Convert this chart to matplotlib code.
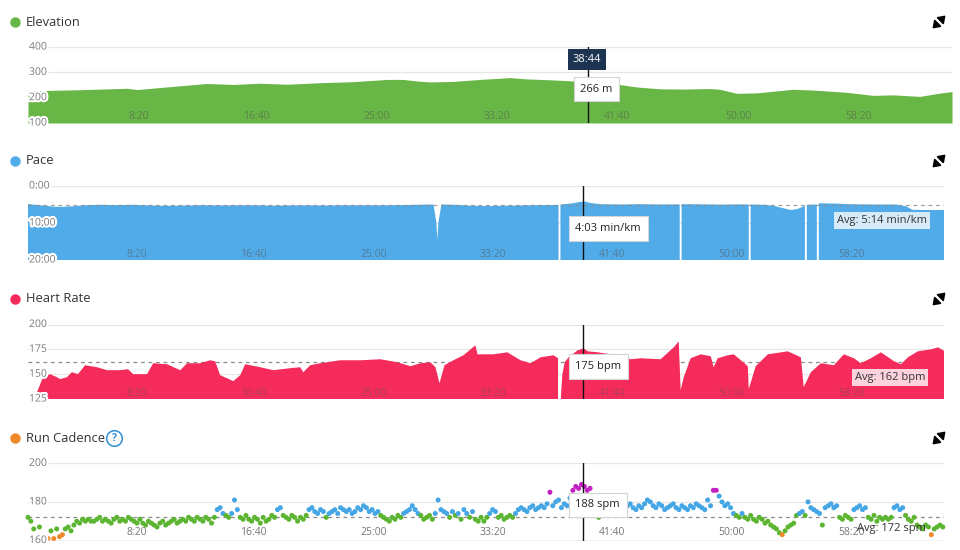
import numpy as np
import matplotlib
matplotlib.use('Agg')
import matplotlib.pyplot as plt
import matplotlib.patheffects as pe

plt.rcParams['font.family'] = ['Open Sans', 'DejaVu Sans']

# ---------------- data ----------------
T_END = 3833          # activity duration (s)
T_CURSOR = 2324       # 38:44
X_TICKS = [500, 1000, 1500, 2000, 2500, 3000, 3500]

elev_t = [0, 203, 411, 452, 547, 742, 850, 962, 1074, 1211, 1348, 1489, 1555, 1613, 1667,
          1763, 1875, 1999, 2070, 2178, 2260, 2319, 2426, 2510, 2538, 2621, 2717, 2829,
          2870, 2941, 3024, 3173, 3256, 3397, 3505, 3588, 3700, 3783, 3833]
elev_m = [227, 231, 237, 232, 240, 256, 252, 257, 253, 259, 263, 272, 272, 266, 262,
          264, 272, 279, 274, 270, 266, 263, 256, 244, 241, 235, 234, 236,
          233, 217, 219, 233, 230, 221, 209, 211, 205, 218, 224]
elev_ticks = [100, 200, 300, 400]

nan = float('nan')
pace_t = [0, 17, 71, 105, 142, 184, 239, 302, 364, 427, 511, 574, 637, 721, 825, 930,
          1035, 1139, 1244, 1349, 1454, 1558, 1663, 1697, 1709, 1713, 1717, 1730, 1789,
          1852, 1935, 2019, 2103, 2166, 2220, 2224, 2228, 2271, 2304, 2329, 2354, 2396,
          2480, 2564, 2648, 2727, 2731, 2735, 2815, 2899, 2983, 3016, 3020, 3024, 3088,
          3129, 3171, 3192, 3222, 3251, 3255, 3259, 3297, 3301, 3305, 3309, 3381, 3444,
          3527, 3632, 3675, 3700, 3758, 3838]
pace_s = [290, 300, 320, 335, 338, 330, 312, 305, 310, 305, 315, 322, 318, 312, 315, 312,
          318, 314, 316, 312, 314, 310, 302, 300, 600, 880, 600, 300, 305,
          320, 325, 318, 312, 310, 306, nan, 300, 285, 262, 250, 275, 295,
          300, 295, 300, 298, nan, 295, 297, 302, 298, 300, nan, 300, 305,
          330, 370, 390, 370, 320, nan, 305, 300, 300, nan, 280, 285, 295,
          300, 300, 330, 385, 390, 390]
pace_avg = 314
pace_ticks = [0, 600, 1200]

hr_t = [29, 38, 63, 92, 121, 134, 163, 184, 209, 239, 289, 331, 385, 419, 440, 498, 524,
        582, 637, 666, 721, 762, 783, 804, 859, 888, 909, 972, 1026, 1097, 1139, 1152,
        1181, 1223, 1307, 1391, 1475, 1546, 1600, 1642, 1684, 1705, 1722, 1743, 1780,
        1822, 1872, 1881, 1948, 2006, 2061, 2103, 2145, 2199, 2218, 2224, 2230, 2236,
        2246, 2262, 2300, 2325, 2342, 2384, 2438, 2480, 2522, 2564, 2647, 2702, 2723,
        2731, 2744, 2773, 2815, 2857, 2869, 2886, 2928, 2953, 2983, 3012, 3016, 3045,
        3096, 3179, 3234, 3246, 3276, 3318, 3372, 3414, 3456, 3485, 3527, 3569, 3624,
        3653, 3682, 3724, 3779, 3808, 3837]
hr_bpm = [125, 132, 147, 150, 147, 145, 147, 152, 150, 159, 157, 154, 154, 155, 150, 150, 161,
          160, 154, 161, 161, 164, 163, 149, 143, 149, 160, 157, 154, 156, 157, 152,
          159, 161, 164, 164, 165, 162, 158, 161, 162, 157, 141, 159, 164,
          169, 179, 170, 170, 172, 164, 161, 167, 169, 166, nan, 128, 150,
          162, 167, 174, 176, 173, 172, 170, 168, 165, 166, 165, 177, 183,
          134, 147, 166, 170, 168, 157, 166, 169, 170, 164, 158, 135, 158,
          170, 173, 167, 137, 152, 161, 159, 170, 166, 161, 166, 172, 163,
          160, 167, 173, 175, 177, 173]
hr_avg = 162
hr_ticks = [125, 150, 175, 200]

CAD_STEP = 12  # seconds between cadence samples
cad_spm = [
    172, 170, 166, 161, 167, 160, 162, 161, 165, 161, 166, 162, 163, 166, 167, 165, 168, 170, 169, 171,
    170, 171, 170, 170, 171, 172, 170, 171, 170, 169, 171, 172, 170, 171, 170, 172, 171, 170, 169, 171,
    169, 168, 170, 169, 168, 167, 169, 170, 168, 169, 170, 171, 169, 170, 171, 170, 172, 171, 170, 172,
    171, 170, 172, 171, 169, 172, 176, 177, 174, 173, 172, 174, 181, 176, 172, 171, 173, 171, 170, 172,
    171, 169, 172, 170, 171, 173, 172, 176, 177, 173, 172, 171, 173, 172, 170, 172, 171, 173, 176, 177,
    175, 174, 176, 175, 172, 174, 175, 176, 174, 177, 176, 175, 176, 174, 175, 177, 176, 178, 177, 175,
    176, 174, 175, 173, 172, 171, 170, 172, 171, 173, 172, 174, 175, 176, 178, 176, 174, 173, 171, 172,
    173, 171, 174, 181, 176, 175, 174, 172, 175, 173, 174, 171, 176, 174, 172, 175, 171, 170, 172, 170,
    172, 174, 176, 175, 172, 173, 171, 172, 173, 172, 174, 176, 177, 176, 175, 177, 178, 176, 177, 178,
    177, 179, 185, 178, 180, 181, 177, 179, 178, 182, 186, 188, 187, 189, 188, 186, 187, 180, 176, 172,
    175, 176, 177, 175, 176, 178, 177, 176, 177, 178, 179, 177, 176, 178, 177, 179, 181, 180, 178, 177,
    179, 178, 176, 177, 178, 179, 177, 176, 178, 177, 176, 178, 177, 179, 178, 177, 176, 181, 178, 186,
    186, 183, 180, 178, 179, 177, 174, 173, 172, 174, 172, 171, 173, 171, 170, 172, 171, 169, 170, 168,
    167, 166, 164, 163, 165, 167, 168, 169, 173, 174, 175, 173, 180, 177, 176, 175, 174, 168, 177, 178,
    179, 177, 178, 172, 171, 173, 172, 171, 176, 177, 178, 176, 177, 172, 171, 173, 170, 172, 171, 172,
    171, 172, 177, 178, 176, 177, 173, 171, 170, 172, 168, 167, 166, 168, 167, 163, 166, 167, 168, 167,
]
cad_avg = 172
cad_ticks = [160, 180, 200]

titles = ['Elevation', 'Pace', 'Heart Rate', 'Run Cadence']
tooltips = ['266 m', '4:03 min/km', '175 bpm', '188 spm']
avg_labels = ['Avg: 5:14 min/km', 'Avg: 162 bpm', 'Avg: 172 spm']

# ---------------- style ----------------
C_ELEV = '#67b646'
C_PACE = '#51abe8'
C_HR = '#f52b5b'
C_CAD_ORANGE = '#ee8a2a'
C_CAD_GREEN = '#5cb531'
C_CAD_BLUE = '#44a6e5'
C_CAD_PURPLE = '#c222c2'
GRID = '#e6e6e6'
TXT = '#7a7a7a'


def fmt_time(s):
    m, sec = divmod(int(round(s)), 60)
    return f"{m}:{sec:02d}"


W, H = 960, 550
fig = plt.figure(figsize=(9.6, 5.5), dpi=100)
fig.patch.set_facecolor('white')


def px_axes(l, r, t, b):
    return fig.add_axes([l / W, 1 - b / H, (r - l) / W, (b - t) / H])


ax_e = px_axes(28, 952, 47, 123)
ax_p = px_axes(28, 944, 186, 260)
ax_h = px_axes(28, 944, 324.5, 399)
ax_c = px_axes(28, 944, 463.3, 540.5)
axes = [ax_e, ax_p, ax_h, ax_c]

for ax in axes:
    ax.set_xlim(0, T_END)
    ax.axis('off')

ax_e.set_ylim(100, 400)
ax_p.set_ylim(1200, 0)
ax_h.set_ylim(125, 200)
ax_c.set_ylim(160, 200)

stroke = [pe.withStroke(linewidth=3, foreground='white')]


def ytick_labels(ax, vals, labels):
    for v, lab in zip(vals, labels):
        ax.axhline(v, color=GRID, lw=0.9, zorder=0)
        ax.annotate(lab, xy=(0, v), xycoords=('axes fraction', 'data'),
                    xytext=(1, 0), textcoords='offset pixels', ha='left', va='center',
                    fontsize=7.5, color=TXT, path_effects=stroke, zorder=6,
                    annotation_clip=False)


def xtick_labels(ax, dy, color, alpha):
    for tv in X_TICKS:
        ax.annotate(fmt_time(tv), xy=(tv, 0), xycoords=('data', 'axes fraction'),
                    xytext=(0, dy), textcoords='offset pixels', ha='right', va='center',
                    fontsize=7.5, color=color, alpha=alpha, zorder=5)


# Elevation
ytick_labels(ax_e, elev_ticks, [str(v) for v in elev_ticks])
ax_e.fill_between(elev_t, elev_m, 100, color=C_ELEV, lw=0, zorder=2)
xtick_labels(ax_e, 6.5, '#555555', 0.55)

# Pace
ytick_labels(ax_p, pace_ticks, [fmt_time(v) for v in pace_ticks])
ax_p.fill_between(pace_t, pace_s, 1200, color=C_PACE, lw=0, zorder=2)
ax_p.axhline(pace_avg, color='#8a8a8a', lw=0.9, ls=(0, (3, 3)), zorder=3, alpha=0.8)
xtick_labels(ax_p, 5, '#555555', 0.55)

# Heart rate
ytick_labels(ax_h, hr_ticks, [str(v) for v in hr_ticks])
ax_h.axhline(hr_avg, color='#8a8a8a', lw=0.9, ls=(0, (3, 3)), zorder=1)
ax_h.fill_between(hr_t, hr_bpm, 125, color=C_HR, lw=0, zorder=2)
xtick_labels(ax_h, 5.5, '#555555', 0.45)

# Cadence
ytick_labels(ax_c, cad_ticks, [str(v) for v in cad_ticks])
ax_c.axhline(160, color='#cfcfcf', lw=1.0, zorder=0)
ax_c.axhline(cad_avg, color='#8a8a8a', lw=0.9, ls=(0, (3, 3)), zorder=1)
cad_t = np.arange(len(cad_spm)) * CAD_STEP
cad_v = np.array(cad_spm)
cols = np.where(cad_v > 183, C_CAD_PURPLE,
                np.where(cad_v >= 174, C_CAD_BLUE,
                         np.where(cad_v >= 164, C_CAD_GREEN, C_CAD_ORANGE)))
ax_c.scatter(cad_t, cad_v, s=13, c=cols, lw=0, zorder=3, clip_on=False)
xtick_labels(ax_c, 8, '#777777', 1.0)

# cursor lines
for ax in axes:
    ax.axvline(T_CURSOR, color='#111111', lw=1.0, zorder=4)

# avg labels
ax_p.annotate(avg_labels[0], xy=(1, pace_avg), xycoords=('axes fraction', 'data'),
              xytext=(-107, -15), textcoords='offset pixels', ha='left', va='center',
              fontsize=8, color='#333333', zorder=7,
              bbox=dict(boxstyle='square,pad=0.25', fc='#d6eaf8', ec='none'))
ax_h.annotate(avg_labels[1], xy=(1, hr_avg), xycoords=('axes fraction', 'data'),
              xytext=(-89, -15), textcoords='offset pixels', ha='left', va='center',
              fontsize=8, color='#333333', zorder=7,
              bbox=dict(boxstyle='square,pad=0.25', fc='#fcd3dc', ec='none'))
ax_c.annotate(avg_labels[2], xy=(1, cad_avg), xycoords=('axes fraction', 'data'),
              xytext=(-87, -11), textcoords='offset pixels', ha='left', va='center',
              fontsize=8, color='#333333', zorder=7)

# ---------------- overlay (titles, icons, tooltips) ----------------
ov = fig.add_axes([0, 0, 1, 1], zorder=10)
ov.set_xlim(0, W)
ov.set_ylim(H, 0)
ov.axis('off')
ov.patch.set_alpha(0)

title_y = [22, 161, 299, 438]
dot_cols = [C_ELEV, C_PACE, C_HR, C_CAD_ORANGE]
for ty, tt, dc in zip(title_y, titles, dot_cols):
    ov.plot(15, ty, 'o', ms=7.5, color=dc, mec='none')
    ov.text(26, ty, tt, fontsize=9.3, color='#333333', va='center', ha='left')
    # expand icon (two diagonal arrows pointing outward)
    cx, cy = 939, ty
    for dx, dy in [(1, -1), (-1, 1)]:
        ov.annotate('', xy=(cx + 6.5 * dx, cy + 6.5 * dy),
                    xytext=(cx + 1.5 * dx, cy + 1.5 * dy),
                    arrowprops=dict(arrowstyle='-|>,head_length=0.5,head_width=0.35',
                                    color='black', lw=1.3, mutation_scale=8,
                                    shrinkA=0, shrinkB=0))

# question mark icon
ov.text(114.5, 438.5, '?', fontsize=7.5, color='#2f8fd8', ha='center', va='center',
        fontweight='bold',
        bbox=dict(boxstyle='circle,pad=0.22', fc='white', ec='#2f8fd8', lw=1.1))

fig.canvas.draw()


def cursor_px(ax):
    x, _ = ax.transData.transform((T_CURSOR, 0))
    return x


# time box above elevation
cx_e = cursor_px(ax_e)
ov.text(cx_e - 1, 59.5, fmt_time(T_CURSOR), fontsize=8, color='white', ha='center',
        va='center', bbox=dict(boxstyle='square,pad=0.45', fc='#1d3450', ec='none'))

tip_box = dict(boxstyle='square,pad=0.6', fc='white', ec='#d4d4d4', lw=0.8)
tip_y = [89, 228.5, 366.5, 505]
for ax, ty, tip in zip(axes, tip_y, tooltips):
    cx = cursor_px(ax)
    ov.text(cx - 8, ty, tip, fontsize=8, color='#222222', ha='left', va='center',
            bbox=tip_box)

fig.savefig('out.png', dpi=100, facecolor='white')
